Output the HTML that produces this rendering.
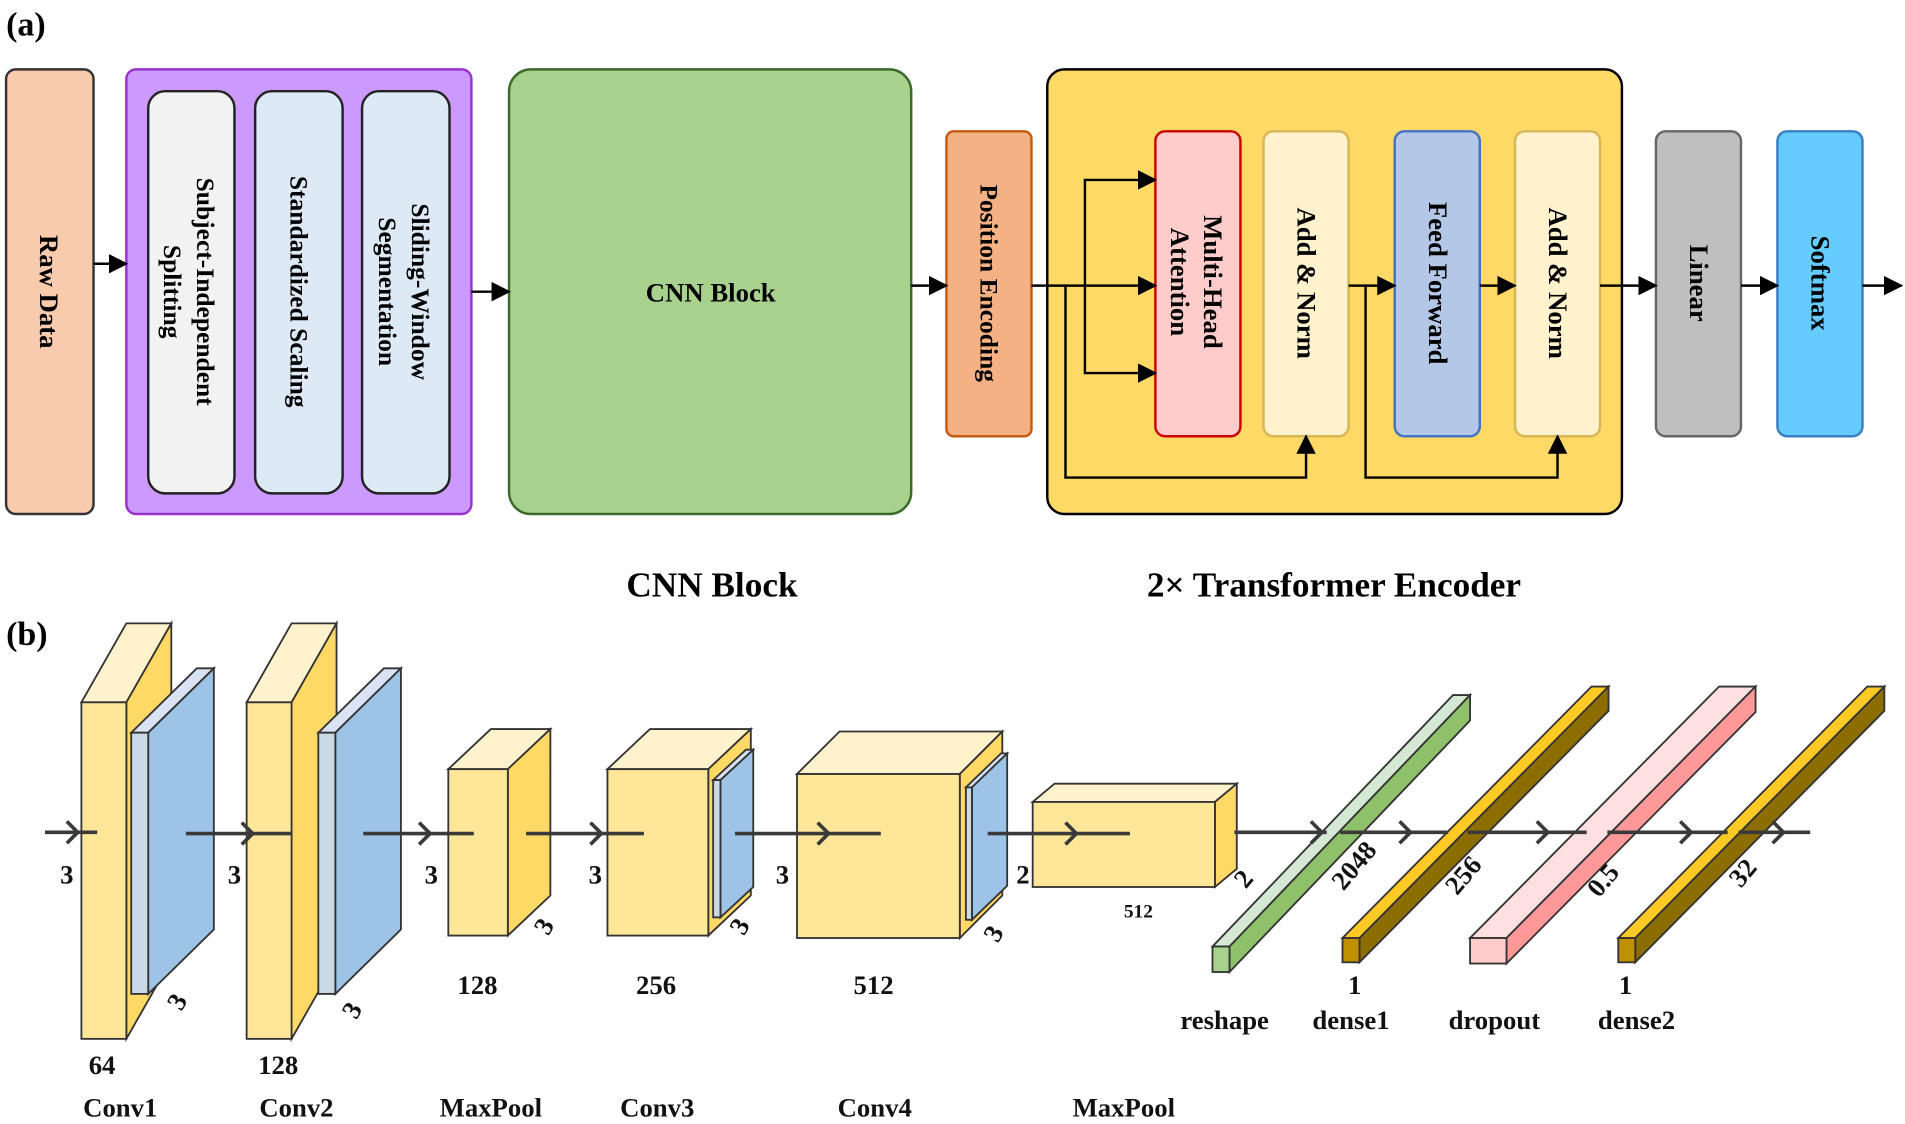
<!DOCTYPE html>
<html><head><meta charset="utf-8"><style>html,body{margin:0;padding:0;background:#fff}svg{display:block}</style></head>
<body>
<svg width="1905" height="1124" viewBox="0 0 1568 925" xmlns="http://www.w3.org/2000/svg" font-family="Liberation Serif, serif" font-weight="bold">
<defs>
<marker id="ah" viewBox="0 0 10 10" markerWidth="16" markerHeight="16" refX="9" refY="5" orient="auto" markerUnits="userSpaceOnUse"><path d="M0,0 L10,5 L0,10 z" fill="#000"/></marker>
</defs>
<text x="5" y="29" font-size="28">(a)</text>
<text x="5" y="531" font-size="28">(b)</text>
<!-- (a) boxes -->
<rect x="5" y="57" width="72" height="366" rx="8" fill="#f8cbad" stroke="#333" stroke-width="2"/>
<text transform="translate(33,240) rotate(90)" text-anchor="middle" font-size="22">Raw Data</text>
<rect x="104" y="57" width="284" height="366" rx="8" fill="#cc99ff" stroke="#9933cc" stroke-width="2"/>
<rect x="122" y="75" width="71" height="331" rx="14" fill="#f2f2f2" stroke="#222" stroke-width="2"/>
<rect x="210" y="75" width="72" height="331" rx="14" fill="#dde9f5" stroke="#222" stroke-width="2"/>
<rect x="298" y="75" width="72" height="331" rx="14" fill="#dde9f5" stroke="#222" stroke-width="2"/>
<g font-size="21" text-anchor="middle">
<text transform="translate(157,240) rotate(90)"><tspan x="0" dy="-5">Subject-Independent</tspan><tspan x="0" dy="27">Splitting</tspan></text>
<text transform="translate(239,240) rotate(90)">Standardized Scaling</text>
<text transform="translate(334,240) rotate(90)"><tspan x="0" dy="-5">Sliding-Window</tspan><tspan x="0" dy="27">Segmentation</tspan></text>
</g>
<rect x="419" y="57" width="331" height="366" rx="18" fill="#a9d18e" stroke="#3c6a2a" stroke-width="2"/>
<text x="585" y="248" font-size="22" text-anchor="middle">CNN Block</text>
<rect x="779" y="108" width="70" height="251" rx="6" fill="#f4b183" stroke="#c55a11" stroke-width="2"/>
<text transform="translate(807,233) rotate(90)" text-anchor="middle" font-size="21">Position Encoding</text>
<rect x="862" y="57" width="473" height="366" rx="14" fill="#ffd966" stroke="#000" stroke-width="2"/>
<rect x="951" y="108" width="70" height="251" rx="8" fill="#ffcccc" stroke="#cc0000" stroke-width="2"/>
<rect x="1040" y="108" width="70" height="251" rx="8" fill="#fff2cc" stroke="#d6b656" stroke-width="2"/>
<rect x="1148" y="108" width="70" height="251" rx="8" fill="#b4c7e7" stroke="#4472c4" stroke-width="2"/>
<rect x="1247" y="108" width="70" height="251" rx="8" fill="#fff2cc" stroke="#d6b656" stroke-width="2"/>
<rect x="1363" y="108" width="70" height="251" rx="8" fill="#bfbfbf" stroke="#666" stroke-width="2"/>
<rect x="1463" y="108" width="70" height="251" rx="8" fill="#66ccff" stroke="#3a7fc4" stroke-width="2"/>
<g font-size="22" text-anchor="middle">
<text transform="translate(986,232) rotate(90)"><tspan x="0" dy="-5">Multi-Head</tspan><tspan x="0" dy="27">Attention</tspan></text>
<text transform="translate(1068,233) rotate(90)">Add &amp; Norm</text>
<text transform="translate(1176,233) rotate(90)">Feed Forward</text>
<text transform="translate(1275,233) rotate(90)">Add &amp; Norm</text>
<text transform="translate(1391,233) rotate(90)">Linear</text>
<text transform="translate(1491,233) rotate(90)">Softmax</text>
</g>
<g stroke="#000" stroke-width="2" fill="none" marker-end="url(#ah)">
<line x1="77" y1="217" x2="104" y2="217"/>
<line x1="388" y1="240" x2="419" y2="240"/>
<line x1="750" y1="235" x2="779" y2="235"/>
<line x1="849" y1="235" x2="951" y2="235"/>
<polyline points="893,235 893,148 951,148"/>
<polyline points="893,235 893,307 951,307"/>
<polyline points="877,235 877,393 1075,393 1075,359"/>
<line x1="1110" y1="235" x2="1148" y2="235"/>
<polyline points="1124,235 1124,393 1282,393 1282,359"/>
<line x1="1218" y1="235" x2="1247" y2="235"/>
<line x1="1317" y1="235" x2="1363" y2="235"/>
<line x1="1433" y1="235" x2="1463" y2="235"/>
<line x1="1533" y1="235" x2="1565" y2="235"/>
</g>
<text x="586" y="491" font-size="29" text-anchor="middle">CNN Block</text>
<text x="1098" y="491" font-size="29" text-anchor="middle">2× Transformer Encoder</text>
<!-- (b) -->
<g stroke="#333" stroke-width="1.5">
<polygon points="67,578 104,578 141,513 104,513" fill="#fff2cc"/>
<polygon points="104,578 141,513 141,790 104,855" fill="#ffd966"/>
<rect x="67" y="578" width="37" height="277" fill="#ffe699"/>
<polygon points="108,603 122,603 176,550 162,550" fill="#dae3f3"/>
<polygon points="122,603 176,550 176,765 122,818" fill="#9dc3e6"/>
<rect x="108" y="603" width="14" height="215" fill="#c9d9e6"/>
<polygon points="203,578 240,578 277,513 240,513" fill="#fff2cc"/>
<polygon points="240,578 277,513 277,790 240,855" fill="#ffd966"/>
<rect x="203" y="578" width="37" height="277" fill="#ffe699"/>
<polygon points="262,603 276,603 330,550 316,550" fill="#dae3f3"/>
<polygon points="276,603 330,550 330,765 276,818" fill="#9dc3e6"/>
<rect x="262" y="603" width="14" height="215" fill="#c9d9e6"/>
<polygon points="369,633 418,633 453,600 404,600" fill="#fff2cc"/>
<polygon points="418,633 453,600 453,737 418,770" fill="#ffd966"/>
<rect x="369" y="633" width="49" height="137" fill="#ffe699"/>
<polygon points="500,633 583,633 618,600 535,600" fill="#fff2cc"/>
<polygon points="583,633 618,600 618,737 583,770" fill="#ffd966"/>
<rect x="500" y="633" width="83" height="137" fill="#ffe699"/>
<polygon points="587,642 593,642 620,617 614,617" fill="#dae3f3"/>
<polygon points="593,642 620,617 620,730 593,755" fill="#9dc3e6"/>
<rect x="587" y="642" width="6" height="113" fill="#c9d9e6"/>
<polygon points="656,637 790,637 825,602 691,602" fill="#fff2cc"/>
<polygon points="790,637 825,602 825,737 790,772" fill="#ffd966"/>
<rect x="656" y="637" width="134" height="135" fill="#ffe699"/>
<polygon points="795,648 800,648 829,620 824,620" fill="#dae3f3"/>
<polygon points="800,648 829,620 829,729 800,757" fill="#9dc3e6"/>
<rect x="795" y="648" width="5" height="109" fill="#c9d9e6"/>
<polygon points="850,660 1000,660 1018,645 868,645" fill="#fff2cc"/>
<polygon points="1000,660 1018,645 1018,715 1000,730" fill="#ffd966"/>
<rect x="850" y="660" width="150" height="70" fill="#ffe699"/>
<polygon points="998,779 1012,779 1210,572 1196,572" fill="#d5e8d4"/>
<polygon points="1012,779 1210,572 1210,593 1012,800" fill="#8fc16a"/>
<rect x="998" y="779" width="14" height="21" fill="#a9d18e"/>
<polygon points="1105,772 1119,772 1324,565 1310,565" fill="#ffc926"/>
<polygon points="1119,772 1324,565 1324,585 1119,792" fill="#8c6d00"/>
<rect x="1105" y="772" width="14" height="20" fill="#bf9000"/>
<polygon points="1210,772 1240,772 1445,565 1415,565" fill="#ffe0e0"/>
<polygon points="1240,772 1445,565 1445,586 1240,793" fill="#ff9999"/>
<rect x="1210" y="772" width="30" height="21" fill="#ffcccc"/>
<polygon points="1332,772 1346,772 1551,565 1537,565" fill="#ffc926"/>
<polygon points="1346,772 1551,565 1551,585 1346,792" fill="#8c6d00"/>
<rect x="1332" y="772" width="14" height="20" fill="#bf9000"/>
</g>
<g stroke="#3a3a3a" stroke-width="3" fill="none">
<line x1="37" y1="685" x2="80" y2="685"/><polyline points="55,676 64,685 55,694"/>
<line x1="153" y1="686" x2="240" y2="686"/><polyline points="199,677 208,686 199,695"/>
<line x1="299" y1="686" x2="390" y2="686"/><polyline points="345,677 354,686 345,695"/>
<line x1="433" y1="686" x2="530" y2="686"/><polyline points="486,677 495,686 486,695"/>
<line x1="605" y1="686" x2="725" y2="686"/><polyline points="673,677 682,686 673,695"/>
<line x1="813" y1="686" x2="930" y2="686"/><polyline points="877,677 886,686 877,695"/>
<line x1="1016" y1="685" x2="1092" y2="685"/><polyline points="1079,676 1088,685 1079,694"/>
<line x1="1103" y1="685" x2="1192" y2="685"/><polyline points="1152,676 1161,685 1152,694"/>
<line x1="1208" y1="685" x2="1306" y2="685"/><polyline points="1265,676 1274,685 1265,694"/>
<line x1="1323" y1="685" x2="1422" y2="685"/><polyline points="1383,676 1392,685 1383,694"/>
<line x1="1431" y1="685" x2="1490" y2="685"/><polyline points="1459,676 1468,685 1459,694"/>
</g>
<g font-size="22" text-anchor="middle" fill="#111">
<text x="55" y="727">3</text><text x="193" y="727">3</text><text x="355" y="727">3</text><text x="490" y="727">3</text><text x="644" y="727">3</text><text x="842" y="727">2</text>
<text transform="translate(152,828) rotate(-60)">3</text>
<text transform="translate(296,835) rotate(-60)">3</text>
<text transform="translate(454,766) rotate(-60)">3</text>
<text transform="translate(615,766) rotate(-60)">3</text>
<text transform="translate(824,772) rotate(-60)">3</text>
<text transform="translate(1029,728) rotate(-50)">2</text>
<text transform="translate(1120,717) rotate(-50)">2048</text>
<text transform="translate(1210,725) rotate(-50)">256</text>
<text transform="translate(1325,729) rotate(-50)">0.5</text>
<text transform="translate(1440,723) rotate(-50)">32</text>
<text x="84" y="884">64</text><text x="229" y="884">128</text>
<text x="393" y="818">128</text><text x="540" y="818">256</text><text x="719" y="818">512</text>
<text x="937" y="755" font-size="16">512</text>
<text x="1115" y="818">1</text><text x="1338" y="818">1</text>
<text x="1008" y="847">reshape</text><text x="1112" y="847">dense1</text><text x="1230" y="847">dropout</text><text x="1347" y="847">dense2</text>
<text x="99" y="919">Conv1</text><text x="244" y="919">Conv2</text><text x="404" y="919">MaxPool</text><text x="541" y="919">Conv3</text><text x="720" y="919">Conv4</text><text x="925" y="919">MaxPool</text>
</g>
</svg>
</body></html>
